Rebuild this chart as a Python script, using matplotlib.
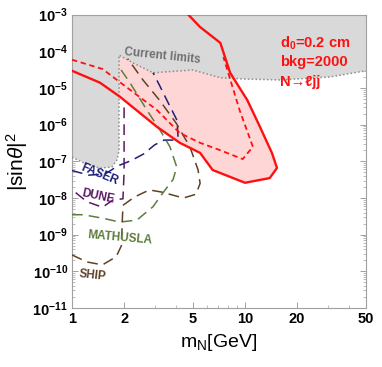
import math
import matplotlib
matplotlib.use('Agg')
from matplotlib import pyplot as plt
from matplotlib.ticker import FixedLocator, FuncFormatter, LogLocator, NullFormatter

plt.rcParams['font.family'] = ['Liberation Sans', 'DejaVu Sans']
plt.rcParams['mathtext.fontset'] = 'custom'
plt.rcParams['mathtext.rm'] = 'Liberation Sans'
plt.rcParams['mathtext.it'] = 'Liberation Sans:italic'
plt.rcParams['mathtext.bf'] = 'Liberation Sans:bold'

# current limits (grey region), lower/upper boundary
limits_low_m = [1.0, 1.2, 1.45, 1.7, 1.82, 1.87]
limits_low_s = [1.3e-7, 8.5e-8, 6.5e-8, 7.0e-8, 1.1e-7, 2.0e-7]
limits_up_m = [1.87, 2.3, 2.94, 5.0, 7.2, 10.0, 16.0, 31.0, 50.0]
limits_up_s = [7.9e-5, 4.6e-5, 2.6e-5, 3.1e-5, 1.9e-5, 1.75e-5, 1.66e-5, 2.0e-5, 2.95e-5]

# this work, solid contour (bkg=2000)
solid_m = [1.0, 1.45, 1.89, 3.1, 4.2, 5.5, 6.5, 10.0, 13.9, 15.3, 14.3, 12.2, 10.3, 8.2, 7.2, 5.5, 4.7]
solid_s = [2.95e-5, 1.4e-5, 5.8e-6, 8.7e-7, 3.2e-7, 1.7e-7, 5.8e-8, 2.6e-8, 3.5e-8, 6.6e-8,
           1.7e-7, 8.7e-7, 4.7e-6, 2.6e-5, 1.7e-4, 4.6e-4, 1.0e-3]

# dashed contour
dashed_m = [1.0, 1.5, 1.87, 3.1, 4.2, 5.5, 7.2, 9.7, 11.1, 9.3, 7.5]
dashed_s = [5.9e-5, 3.3e-5, 1.5e-5, 2.5e-6, 5.9e-7, 3.2e-7, 2.0e-7, 1.15e-7, 2.5e-7, 2.5e-6, 7.0e-5]

faser_m = [1.0, 1.25, 1.55, 1.85, 2.2, 2.6, 3.0, 3.4, 3.9, 4.1, 4.05, 3.6, 3.2, 2.94]
faser_s = [5.6e-8, 4.2e-8, 4.5e-8, 7.6e-8, 1.05e-7, 1.6e-7, 2.8e-7, 3.8e-7, 3.8e-7, 4.5e-7,
           1.3e-6, 3.9e-6, 1.2e-5, 2.6e-5]

dune_m = [1.05, 1.22, 1.5, 1.73, 1.97, 2.0, 2.0]
dune_s = [1.4e-8, 7.9e-9, 5.6e-9, 8.9e-9, 9.5e-9, 5e-8, 4.0e-6]

mathusla_m = [1.0, 1.16, 1.51, 1.89, 2.37, 2.94, 3.36, 3.84, 4.03, 3.68, 3.22, 2.71, 2.16, 1.89]
mathusla_s = [3.5e-9, 3.5e-9, 2.8e-9, 2.2e-9, 2.5e-9, 5.8e-9, 1.4e-8, 3.2e-8, 7e-8, 2.5e-7,
              7.2e-7, 2.5e-6, 1.4e-5, 3.5e-5]

ship_m = [1.0, 1.22, 1.5, 1.8, 1.93, 1.95, 1.97, 2.3, 2.8, 3.3, 4.4, 5.2, 5.5, 5.35, 4.8, 4.0, 3.2, 2.57, 2.1]
ship_s = [2.8e-10, 1.8e-10, 1.5e-10, 2.5e-10, 5e-10, 2e-9, 6.3e-9, 1.07e-8, 1.66e-8, 1.45e-8,
          1.0e-8, 1.26e-8, 2.5e-8, 5.9e-8, 2.5e-7, 1.1e-6, 4.7e-6, 1.66e-5, 6.3e-5]

x_major = [1, 2, 5, 10, 20, 50]
y_decades = list(range(-11, -2))

fig = plt.figure(figsize=(3.82, 3.67), dpi=100)
ax = fig.add_axes([0.1885, 0.1608, 0.7695, 0.7992])
ax.set_xscale('log')
ax.set_yscale('log')
ax.set_xlim(1, 50)
ax.set_ylim(1e-11, 1e-3)

# pink region inside the solid contour
pink_m = solid_m + [1.0]
pink_s = solid_s + [1.0e-3]
ax.fill(pink_m, pink_s, color='#ffd6d6', lw=0, zorder=1)

# grey current limits
grey_m = [1.0] + limits_low_m + limits_up_m + [50.0, 1.0]
grey_s = [1.0e-3] + limits_low_s + limits_up_s + [1.0e-3, 1.0e-3]
ax.fill(grey_m, grey_s, color='#d9d9d9', lw=0, zorder=2)
ax.plot(limits_low_m + limits_up_m, limits_low_s + limits_up_s, color='#8c8c8c', lw=1.1,
        ls=(0, (1, 1.5)), zorder=3)

dash = (0, (7, 4))
ax.plot(faser_m, faser_s, color='#1f1f7a', lw=1.1, ls=dash, zorder=4)
ax.plot(dune_m, dune_s, color='#5c1866', lw=1.1, ls=dash, zorder=4)
ax.plot(mathusla_m, mathusla_s, color='#5e7d3c', lw=1.1, ls=dash, zorder=4)
ax.plot(ship_m, ship_s, color='#5e4226', lw=1.1, ls=dash, zorder=4)

ax.plot(solid_m, solid_s, color='#ff1010', lw=1.7, zorder=5)
ax.plot(dashed_m, dashed_s, color='#ff1010', lw=1.3, ls=(0, (3, 2)), zorder=5)

ax.text(3.35, 7.3e-5, 'Current limits', color='#707070', fontsize=8.5, fontweight='bold',
        rotation=-6, ha='center', va='center', zorder=6)
ax.text(1.45, 4.3e-8, 'FASER', color='#1f1f7a', fontsize=8.5, fontweight='bold',
        rotation=-22, ha='center', va='center', zorder=6)
ax.text(1.41, 1.1e-8, 'DUNE', color='#5c1866', fontsize=8.5, fontweight='bold',
        rotation=-12, ha='center', va='center', zorder=6)
ax.text(1.9, 8.1e-10, 'MATHUSLA', color='#5e7d3c', fontsize=8.5, fontweight='bold',
        rotation=-5, ha='center', va='center', zorder=6)
ax.text(1.32, 7.6e-11, 'SHIP', color='#5e4226', fontsize=8.5, fontweight='bold',
        rotation=-6, ha='center', va='center', zorder=6)

ax.text(0.707, 0.903, r'd$_\mathbf{0}$=0.2 cm', transform=ax.transAxes, color='#ff1010',
        fontsize=10.5, fontweight='bold', va='center', zorder=6)
ax.text(0.707, 0.839, 'bkg=2000', transform=ax.transAxes, color='#ff1010',
        fontsize=10.5, fontweight='bold', va='center', zorder=6)
ax.text(0.707, 0.771, 'N→ℓjj', transform=ax.transAxes, color='#ff1010',
        fontsize=10.5, fontweight='bold', va='center', zorder=6)

ax.xaxis.set_major_locator(FixedLocator(x_major))
ax.xaxis.set_major_formatter(FuncFormatter(lambda v, p: '%d' % round(v)))
ax.xaxis.set_minor_locator(FixedLocator([3, 4, 6, 7, 8, 9, 30, 40]))
ax.xaxis.set_minor_formatter(NullFormatter())
ax.yaxis.set_major_locator(FixedLocator([10.0 ** k for k in y_decades]))
ax.yaxis.set_major_formatter(FuncFormatter(lambda v, p: r'$\mathbf{10^{%d}}$' % round(math.log10(v))))
ax.yaxis.set_minor_locator(LogLocator(base=10, subs=range(2, 10), numticks=20))
ax.yaxis.set_minor_formatter(NullFormatter())

for side in ax.spines.values():
    side.set_color('#a0a0a0')
    side.set_linewidth(0.8)
ax.tick_params(which='both', direction='in', top=True, right=True, color='#a0a0a0')
ax.tick_params(which='major', length=4, width=0.7, labelsize=10.5, pad=3)
ax.tick_params(which='minor', length=2, width=0.5)
for lbl in ax.get_xticklabels():
    lbl.set_fontweight('bold')

ax.set_xlabel(r'$\mathrm{m_N[GeV]}$', fontsize=14, labelpad=4)
ax.set_ylabel(r'$|\mathrm{sin}\theta|^2$', fontsize=15, labelpad=2)

fig.savefig('out.png', dpi=100)
plt.close(fig)
